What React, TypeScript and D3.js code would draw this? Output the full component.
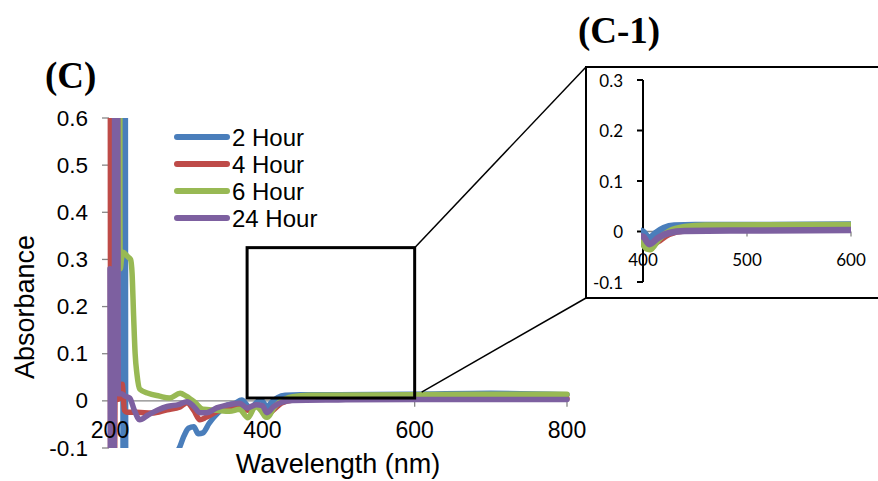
import React from "react";
import * as d3 from "d3";

type Pt = [number, number];

// Series legend names and colours
const seriesNames = ["2 Hour", "4 Hour", "6 Hour", "24 Hour"];
const seriesColors = ["#4A7EBB", "#BE4B48", "#98B954", "#7D60A0"];

// Absorbance spectra: [wavelength (nm), absorbance]
const hour2: Pt[] = [
  [200, 3], [215.5, 3], [217.5, -0.5], [219, 2.5], [221, -0.5], [240, -0.4],
  [265, -0.2], [285, -0.115], [291, -0.1], [297, -0.075], [303, -0.058],
  [310, -0.055], [316, -0.07], [322, -0.068], [330, -0.048], [342, -0.025],
  [354, -0.009], [363, -0.006], [373, 0.002], [384, -0.015], [397, 0.002],
  [400, 0.0], [406, -0.013], [412, -0.003], [420, 0.007], [430, 0.012],
  [450, 0.013], [500, 0.013], [600, 0.014], [700, 0.016], [800, 0.013],
];
const hour4: Pt[] = [
  [200, 2.5], [201, -0.4], [205, -0.4], [206.5, 0.0], [212, 0.005], [216, 0.035],
  [219, -0.02], [222, -0.024], [235, -0.024], [255, -0.026], [275, -0.019],
  [292, -0.013], [301, -0.004], [310, -0.02], [318, -0.04], [326, -0.035],
  [340, -0.023], [355, -0.015], [370, -0.012], [381, -0.02], [392, -0.01],
  [400, -0.012], [406, -0.03], [414, -0.02], [425, -0.005], [440, 0.002],
  [480, 0.004], [600, 0.004], [800, 0.005],
];
const hour6: Pt[] = [
  [200, 2.5], [212.5, 2.5], [213, 0.41], [213.5, 0.28], [215, 0.3], [217, 0.315],
  [221, 0.31], [224, 0.305], [227, 0.3], [229, 0.27], [231, 0.18], [233, 0.1],
  [235.5, 0.055], [239, 0.025], [250, 0.016], [265, 0.01], [278, 0.006],
  [292, 0.016], [300, 0.01], [312, -0.004], [322, -0.018], [340, -0.02],
  [357, -0.022], [370, -0.018], [381, -0.036], [391, -0.012], [398, -0.02],
  [404, -0.034], [407, -0.035], [415, -0.015], [425, 0.0], [440, 0.009],
  [460, 0.012], [600, 0.013], [700, 0.014], [800, 0.014],
];
const hour24: Pt[] = [
  [200, 0.28], [201, -0.3], [205.5, -0.3], [206.5, 1.5], [209.5, 1.5], [211, 0.015],
  [215, 0.015], [220, 0.01], [226, 0.006], [232, -0.02], [239, -0.04],
  [250, -0.03], [262, -0.02], [275, -0.012], [290, -0.008], [301, -0.002],
  [310, -0.012], [318, -0.025], [327, -0.025], [340, -0.015], [357, -0.008],
  [370, -0.005], [380, -0.015], [392, -0.008], [400, -0.01], [406, -0.025],
  [415, -0.012], [425, -0.003], [440, 0.001], [500, 0.002], [600, 0.003],
  [800, 0.003],
];
const allSeries = [hour2, hour4, hour6, hour24];

// Axis ticks
const mainYTicks = [-0.1, 0, 0.1, 0.2, 0.3, 0.4, 0.5, 0.6];
const mainXTicks = [200, 400, 600, 800];
const insetYTicks = [-0.1, 0, 0.1, 0.2, 0.3];
const insetXTicks = [400, 500, 600];

// Zoom region outlined on the main plot: [wavelength, absorbance] corners
const zoomWl = [380, 600];
const zoomAbs = [0.006, 0.325];

const SANS = "'Liberation Sans', Arial, sans-serif";
const SERIF = "'Liberation Serif', 'Times New Roman', serif";
const INSET_FONT = "Lato, 'Open Sans', sans-serif";
const GRAY = "#868686";

export default function App() {
  // Main plot scales
  const x = d3.scaleLinear().domain([200, 800]).range([110, 567]);
  const y = d3.scaleLinear().domain([-0.1, 0.6]).range([448, 118]);
  // Inset plot scales
  const xi = d3.scaleLinear().domain([400, 600]).range([643, 851]);
  const yi = d3.scaleLinear().domain([-0.1, 0.3]).range([282, 80]);

  const mainLine = d3.line<Pt>().x((d) => x(d[0])).y((d) => y(d[1])).curve(d3.curveMonotoneX);
  const insetLine = d3.line<Pt>().x((d) => xi(d[0])).y((d) => yi(d[1])).curve(d3.curveMonotoneX);

  const rx0 = x(zoomWl[0]);
  const rx1 = x(zoomWl[1]);
  const ry0 = y(zoomAbs[1]);
  const ry1 = y(zoomAbs[0]);

  const boxLeft = 586;
  const boxTop = 67;
  const boxBottom = 298;

  return (
    <svg
      width={878}
      height={481}
      style={{ position: "absolute", left: 0, top: 0, display: "block", background: "#fff" }}
    >
      <defs>
        <clipPath id="mainClip">
          <rect x={105} y={y(0.6)} width={x(800) - 105 + 3} height={y(-0.1) - y(0.6)} />
        </clipPath>
        <clipPath id="insetClip">
          <rect x={xi(400) - 2} y={yi(0.3)} width={xi(600) - xi(400) + 4} height={yi(-0.1) - yi(0.3)} />
        </clipPath>
      </defs>

      {/* Panel titles */}
      <text x={45} y={88} fontFamily={SERIF} fontWeight="bold" fontSize={37}>(C)</text>
      <text x={578} y={43} fontFamily={SERIF} fontWeight="bold" fontSize={37}>(C-1)</text>

      {/* Main axes */}
      <line x1={x(200) - 1} x2={x(200) - 1} y1={y(0.6)} y2={y(-0.1)} stroke={GRAY} strokeWidth={1.3} />
      {mainYTicks.map((t) => (
        <line key={"myt" + t} x1={x(200) - 8} x2={x(200) - 1} y1={y(t)} y2={y(t)} stroke={GRAY} strokeWidth={1.3} />
      ))}
      <line x1={x(200) - 1} x2={x(800)} y1={y(0)} y2={y(0)} stroke={GRAY} strokeWidth={1.3} />
      {mainXTicks.map((t) => (
        <line key={"mxt" + t} x1={x(t)} x2={x(t)} y1={y(0)} y2={y(0) + 6} stroke={GRAY} strokeWidth={1.3} />
      ))}

      {/* Main spectra */}
      <g clipPath="url(#mainClip)">
        {allSeries.map((s, i) => (
          <path
            key={"ms" + i}
            d={mainLine(s) ?? ""}
            fill="none"
            stroke={seriesColors[i]}
            strokeWidth={5.5}
            strokeLinejoin="round"
            strokeLinecap="round"
          />
        ))}
      </g>

      {/* Main tick labels and titles */}
      {mainYTicks.map((t) => (
        <text
          key={"myl" + t}
          x={88}
          y={y(t)}
          textAnchor="end"
          dominantBaseline="central"
          fontFamily={SANS}
          fontSize={22.5}
        >
          {t}
        </text>
      ))}
      {mainXTicks.map((t) => (
        <text key={"mxl" + t} x={x(t)} y={438} textAnchor="middle" fontFamily={SANS} fontSize={23}>
          {t}
        </text>
      ))}
      <text
        transform="translate(34,307) rotate(-90)"
        textAnchor="middle"
        fontFamily={SANS}
        fontSize={27}
      >
        Absorbance
      </text>
      <text x={338} y={473} textAnchor="middle" fontFamily={SANS} fontSize={27}>
        Wavelength (nm)
      </text>

      {/* Legend */}
      {seriesNames.map((name, i) => {
        const ly = 137 + i * 27;
        return (
          <g key={"lg" + i}>
            <line x1={177} x2={227} y1={ly} y2={ly} stroke={seriesColors[i]} strokeWidth={6} strokeLinecap="round" />
            <text x={232} y={ly + 8.5} fontFamily={SANS} fontSize={24}>
              {name}
            </text>
          </g>
        );
      })}

      {/* Zoom region outline and connectors */}
      <rect x={rx0} y={ry0} width={rx1 - rx0} height={ry1 - ry0} fill="none" stroke="#000" strokeWidth={3} />
      <line x1={rx1} y1={ry0} x2={boxLeft} y2={boxTop} stroke="#000" strokeWidth={1.5} />
      <line x1={rx1 + 7} y1={ry1 - 6} x2={boxLeft} y2={boxBottom} stroke="#000" strokeWidth={1.5} />

      {/* Inset frame */}
      <rect x={boxLeft} y={boxTop} width={320} height={boxBottom - boxTop} fill="#fff" stroke="#000" strokeWidth={2} />

      {/* Inset axes */}
      <line x1={xi(400)} x2={xi(600)} y1={yi(0)} y2={yi(0)} stroke={GRAY} strokeWidth={1.3} />
      {insetXTicks.map((t) => (
        <line key={"ixt" + t} x1={xi(t)} x2={xi(t)} y1={yi(0)} y2={yi(0) + 5} stroke={GRAY} strokeWidth={1.3} />
      ))}
      <line x1={xi(400)} x2={xi(400)} y1={yi(0.3)} y2={yi(-0.1)} stroke="#000" strokeWidth={2} />
      {insetYTicks.map((t) => (
        <g key={"iy" + t}>
          <line x1={xi(400) - 6} x2={xi(400)} y1={yi(t)} y2={yi(t)} stroke="#000" strokeWidth={2} />
          <text
            x={623}
            y={yi(t)}
            textAnchor="end"
            dominantBaseline="central"
            fontFamily={INSET_FONT}
            fontSize={17}
          >
            {t}
          </text>
        </g>
      ))}

      {/* Inset spectra */}
      <g clipPath="url(#insetClip)">
        {allSeries.map((s, i) => (
          <path
            key={"is" + i}
            d={insetLine(s.filter((d) => d[0] >= 390 && d[0] <= 610)) ?? ""}
            fill="none"
            stroke={seriesColors[i]}
            strokeWidth={6.5}
            strokeLinejoin="round"
          />
        ))}
      </g>
      {insetXTicks.map((t) => (
        <text key={"ixl" + t} x={xi(t)} y={266} textAnchor="middle" fontFamily={INSET_FONT} fontSize={17}>
          {t}
        </text>
      ))}
    </svg>
  );
}
